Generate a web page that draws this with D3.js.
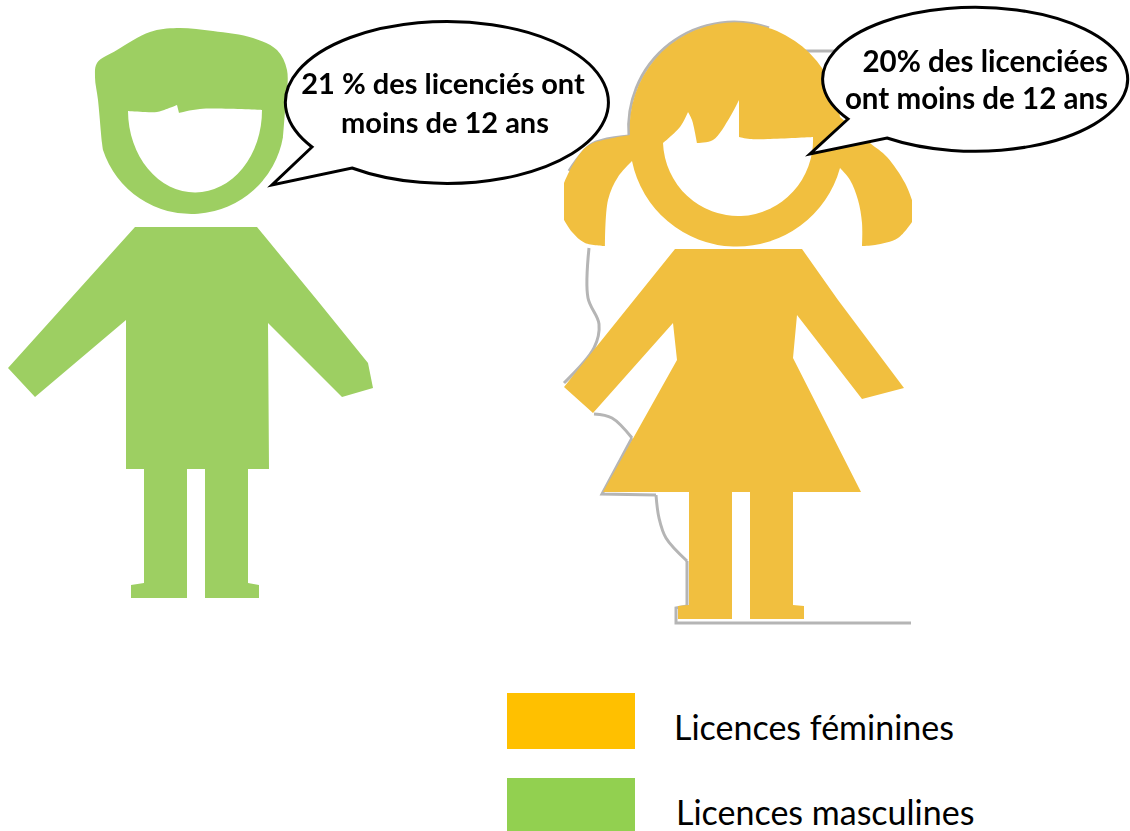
<!DOCTYPE html>
<html lang="fr">
<head>
<meta charset="utf-8">
<title>Licences de moins de 12 ans</title>
<script src="https://cdn.jsdelivr.net/npm/d3@7"></script>
<style>
    html, body { margin: 0; padding: 0; background: #fff; }
    svg { display: block; }
    text { font-family: Lato, "Open Sans", sans-serif; fill: #000; }
</style>
</head>
<body>
<div id="chart"></div>
<script>
// values
const categories = ['Licences féminines', 'Licences masculines'];
const shares = [20, 21];
const boyLines = [`${shares[1]} % des licenciés ont`, 'moins de 12 ans'];
const girlLines = [`${shares[0]}% des licenciées`, 'ont moins de 12 ans'];
const legendColors = ['#FFC000', '#92D050'];

const width = 1130;
const height = 831;
const boyColor = '#9DCF62';
const girlColor = '#F1BF3F';

const svg = d3.select('#chart').append('svg')
    .attr('width', width)
    .attr('height', height);

const smooth = d3.line().curve(d3.curveCatmullRom.alpha(0.5));
const straight = d3.line();

svg.append('defs').append('filter')
    .attr('id', 'soft')
    .append('feGaussianBlur')
    .attr('stdDeviation', 0.7);

// each part is smoothed on its own, so the joins between parts stay sharp.
// a part given as a string is an arc command
function outline(parts) {
    return parts.map((p, i) => {
        if(typeof p === 'string') {
            return p;
        }
        let d = p.length > 2 ? smooth(p) : straight(p);
        return i ? d.replace(/^M[^A-Z]*/, '') : d;
    }).join('') + 'Z';
}

function polygon(points) {
    return straight(points) + 'Z';
}

// silhouette of the boy
const boyHead = outline([
    [[103, 150], [102, 143], [98, 100], [95, 77], [97, 63], [117, 50], [150, 32], [177, 28], [213, 31],
     [253, 38], [277, 50], [287, 70], [285, 110], [283, 137]],
    'A93,93 0 0 1 103,150'
]);
const boyFace = outline([
    [[128, 111], [145, 112], [157, 112], [177, 105]],
    [[177, 105], [179, 113]],
    [[179, 113], [200, 109], [262, 110]],
    'A67,82 0 0 1 128,111'
]);
const boyBody = polygon([
    [135, 227], [257, 227], [317, 300], [368, 363], [373, 388], [342, 397], [268, 323], [269, 469],
    [248, 469], [248, 583], [259, 585], [259, 598], [205, 598], [205, 469], [187, 469], [187, 598],
    [131, 598], [131, 585], [144, 583], [144, 469], [126, 469], [126, 320], [35, 397], [8, 368]
]);

// silhouette of the girl
const girlHead = outline([
    [[630, 135], [630, 135]],
    'A105.4,105.4 0 0 1 840,117',
    [[840, 117], [870, 143], [887, 157], [905, 183], [912, 200]],
    [[912, 200], [912, 222]],
    [[912, 222], [898, 238], [875, 245], [862, 246]],
    [[862, 246], [862, 223], [858, 200], [850, 180], [840, 168]],
    'A107,107 0 0 1 632,161',
    [[632, 161], [618, 177], [608, 200], [605, 246]],
    [[605, 246], [585, 243], [572, 232], [564, 220]],
    [[564, 220], [564, 183]],
    [[564, 183], [570, 170], [583, 150], [593, 143], [630, 135]]
]);
const girlFace = outline([
    [[663, 143], [680, 127], [688, 112]],
    [[688, 112], [692, 120], [697, 143]],
    [[697, 143], [713, 140], [730, 117], [739, 100]],
    [[739, 100], [739, 137]],
    [[739, 137], [750, 139], [813, 137]],
    'A75,76 0 0 1 663,143'
]);
const girlBody = polygon([
    [675, 249], [802, 249], [838, 300], [904, 388], [862, 399], [797, 315], [793, 358], [861, 492],
    [793, 492], [793, 605], [804, 606], [804, 619], [750, 619], [750, 492], [732, 492], [732, 619],
    [678, 619], [678, 606], [689, 605], [689, 492], [603, 492], [677, 360], [673, 323], [593, 413], [564, 387]
]);

// grey leftover line around the girl
const girlEdge = [
    smooth([[590, 247], [589, 297], [600, 323], [595, 347], [565, 382]]),
    smooth([[595, 413], [613, 417], [633, 437]]),
    straight([[633, 437], [603, 493], [657, 494]]),
    smooth([[657, 494], [660, 517], [667, 537], [688, 560]]),
    straight([[688, 560], [688, 605], [677, 607], [677, 622], [912, 622]]),
    'M630,135A105.4,105.4 0 0 1 770,27',
    straight([[800, 50], [842, 50]]),
    smooth([[630, 135], [593, 143], [570, 170]])
];

svg.append('g')
    .attr('filter', 'url(#soft)')
    .selectAll('path')
    .data(girlEdge)
    .join('path')
    .attr('d', (d) => d)
    .attr('fill', 'none')
    .attr('stroke', '#b5b5b5')
    .attr('stroke-width', 3)
    .attr('transform', 'translate(-1,1)');

function drawFigure(head, face, body, color) {
    let g = svg.append('g');
    g.append('path').attr('d', head).attr('fill', color);
    g.append('path').attr('d', face).attr('fill', '#fff');
    g.append('path').attr('d', body).attr('fill', color);
}

drawFigure(boyHead, boyFace, boyBody, boyColor);
drawFigure(girlHead, girlFace, girlBody, girlColor);

// speech bubbles
function drawBubble(rx, ry, tail, lines, anchor, textX, baselines, size) {
    let g = svg.append('g');
    let d = `M${tail[2]}A${rx},${ry} 0 1 0 ${tail[0]}L${tail[1]}Z`;
    g.append('path')
        .attr('d', d)
        .attr('fill', '#fff')
        .attr('stroke', '#000')
        .attr('stroke-width', 3)
        .attr('stroke-linejoin', 'miter');
    g.selectAll('text')
        .data(lines)
        .join('text')
        .attr('x', (l, i) => textX[i])
        .attr('y', (l, i) => baselines[i])
        .attr('text-anchor', anchor)
        .attr('font-size', size)
        .attr('font-weight', 700)
        .text((l) => l);
}

drawBubble(161.5, 81, [[312, 147], [272, 185], [352, 168]], boyLines,
    'middle', [443, 445], [94, 133], 29);
drawBubble(152.5, 72, [[848, 119], [810, 154], [887, 138]], girlLines,
    'end', [1108, 1108], [72, 109], 29.5);

// legend
const legendY = d3.scalePoint().domain(categories).range([693, 778]);
const legendColor = d3.scaleOrdinal().domain(categories).range(legendColors);

const legend = svg.append('g').selectAll('g')
    .data(categories)
    .join('g')
    .attr('transform', (d) => `translate(0,${legendY(d)})`);

legend.append('rect')
    .attr('x', 507)
    .attr('width', 128)
    .attr('height', 56)
    .attr('fill', (d) => legendColor(d));

legend.append('text')
    .attr('x', (d, i) => 674 + i * 2)
    .attr('y', 46.5)
    .attr('font-size', 34)
    .text((d) => d);
</script>
</body>
</html>
